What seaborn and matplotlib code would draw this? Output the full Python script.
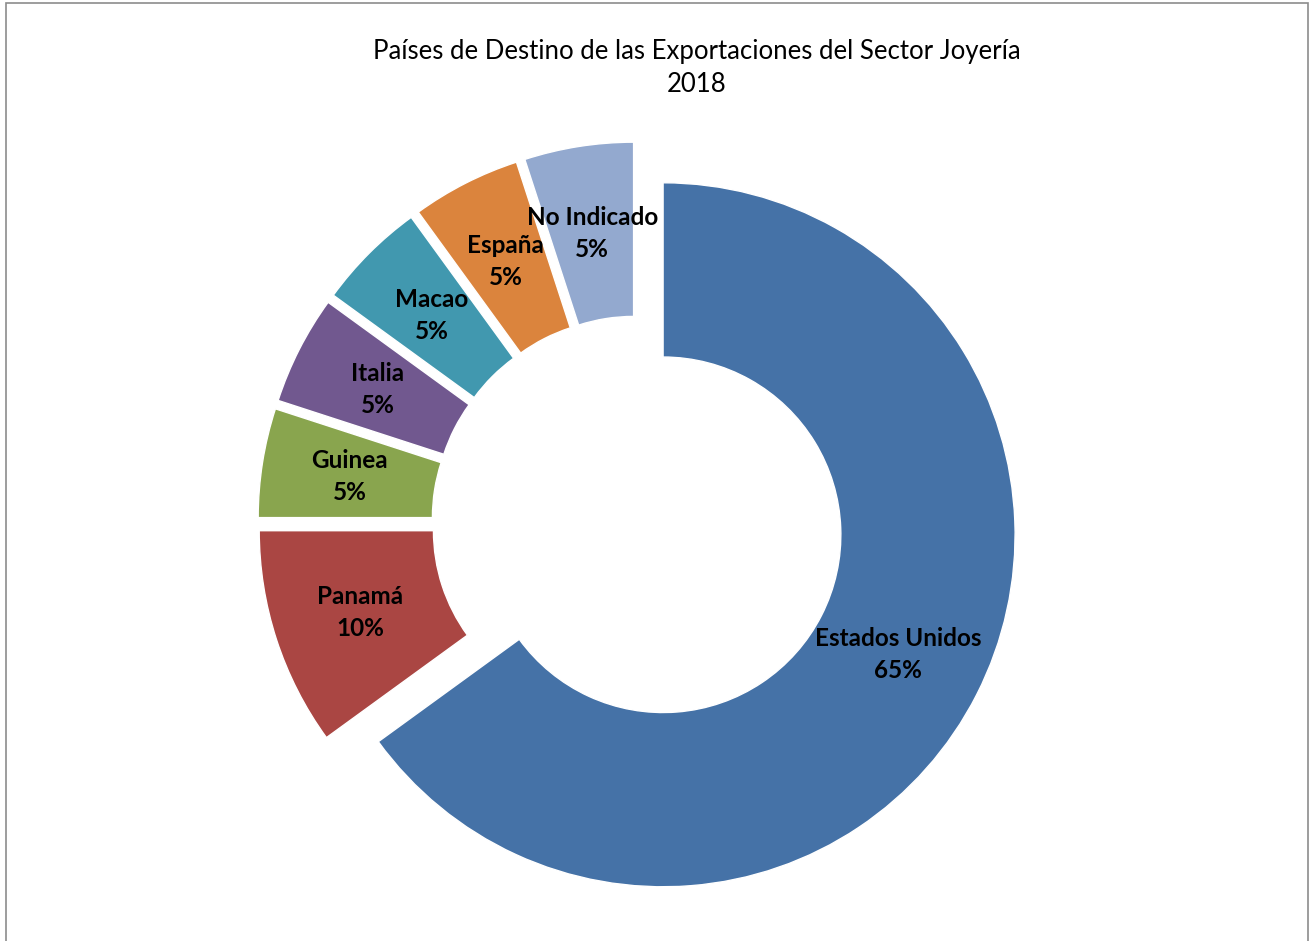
import matplotlib
matplotlib.use('Agg')
import matplotlib.pyplot as plt
import seaborn as sns
from matplotlib.patches import Rectangle

paises = ['Estados Unidos', 'Panamá', 'Guinea', 'Italia', 'Macao', 'España', 'No Indicado']
porcentajes = [65, 10, 5, 5, 5, 5, 5]
colores = ['#4572A7', '#AA4643', '#89A54E', '#71588F', '#4198AF', '#DB843D', '#93A9CF']
titulo = 'Países de Destino de las Exportaciones del Sector Joyería\n2018'

sns.set_theme(style='white')
plt.rcParams['font.family'] = ['Lato', 'DejaVu Sans']

W, H = 1309, 941
fig = plt.figure(figsize=(W / 100, H / 100), dpi=100)
fig.patch.set_facecolor('white')

# chart-area border (top/left/right visible, bottom cut off)
fig.add_artist(Rectangle((5.5 / W, -0.05), (1307.5 - 5.5) / W, 1.05 - 3.5 / H,
                         transform=fig.transFigure, fill=False,
                         edgecolor='#8c8c8c', linewidth=1.2))

cx, cy, R = 638, 522, 352
ax = fig.add_axes([0, 0, 1, 1])
etiquetas = [f'{p}\n{v}%' for p, v in zip(paises, porcentajes)]
wedges, texts = ax.pie(porcentajes, labels=etiquetas, colors=colores,
                       startangle=90, counterclock=False,
                       explode=[0.08] * len(porcentajes),
                       labeldistance=0.75, radius=1,
                       wedgeprops=dict(width=0.495, edgecolor='white', linewidth=1),
                       textprops=dict(fontsize=17.5, fontweight='bold', color='black'))
for t in texts:
    t.set_ha('center')
    t.set_va('center')
    t.set_linespacing(1.5)
ax.set_xlim(-cx / R, (W - cx) / R)
ax.set_ylim(-(H - cy) / R, cy / R)
ax.set_aspect('auto')
ax.axis('off')

fig.text(697 / W, 1 - 68 / H, titulo, ha='center', va='center',
         fontsize=18.5, color='black', linespacing=1.4)

fig.savefig('out.png', dpi=100)
